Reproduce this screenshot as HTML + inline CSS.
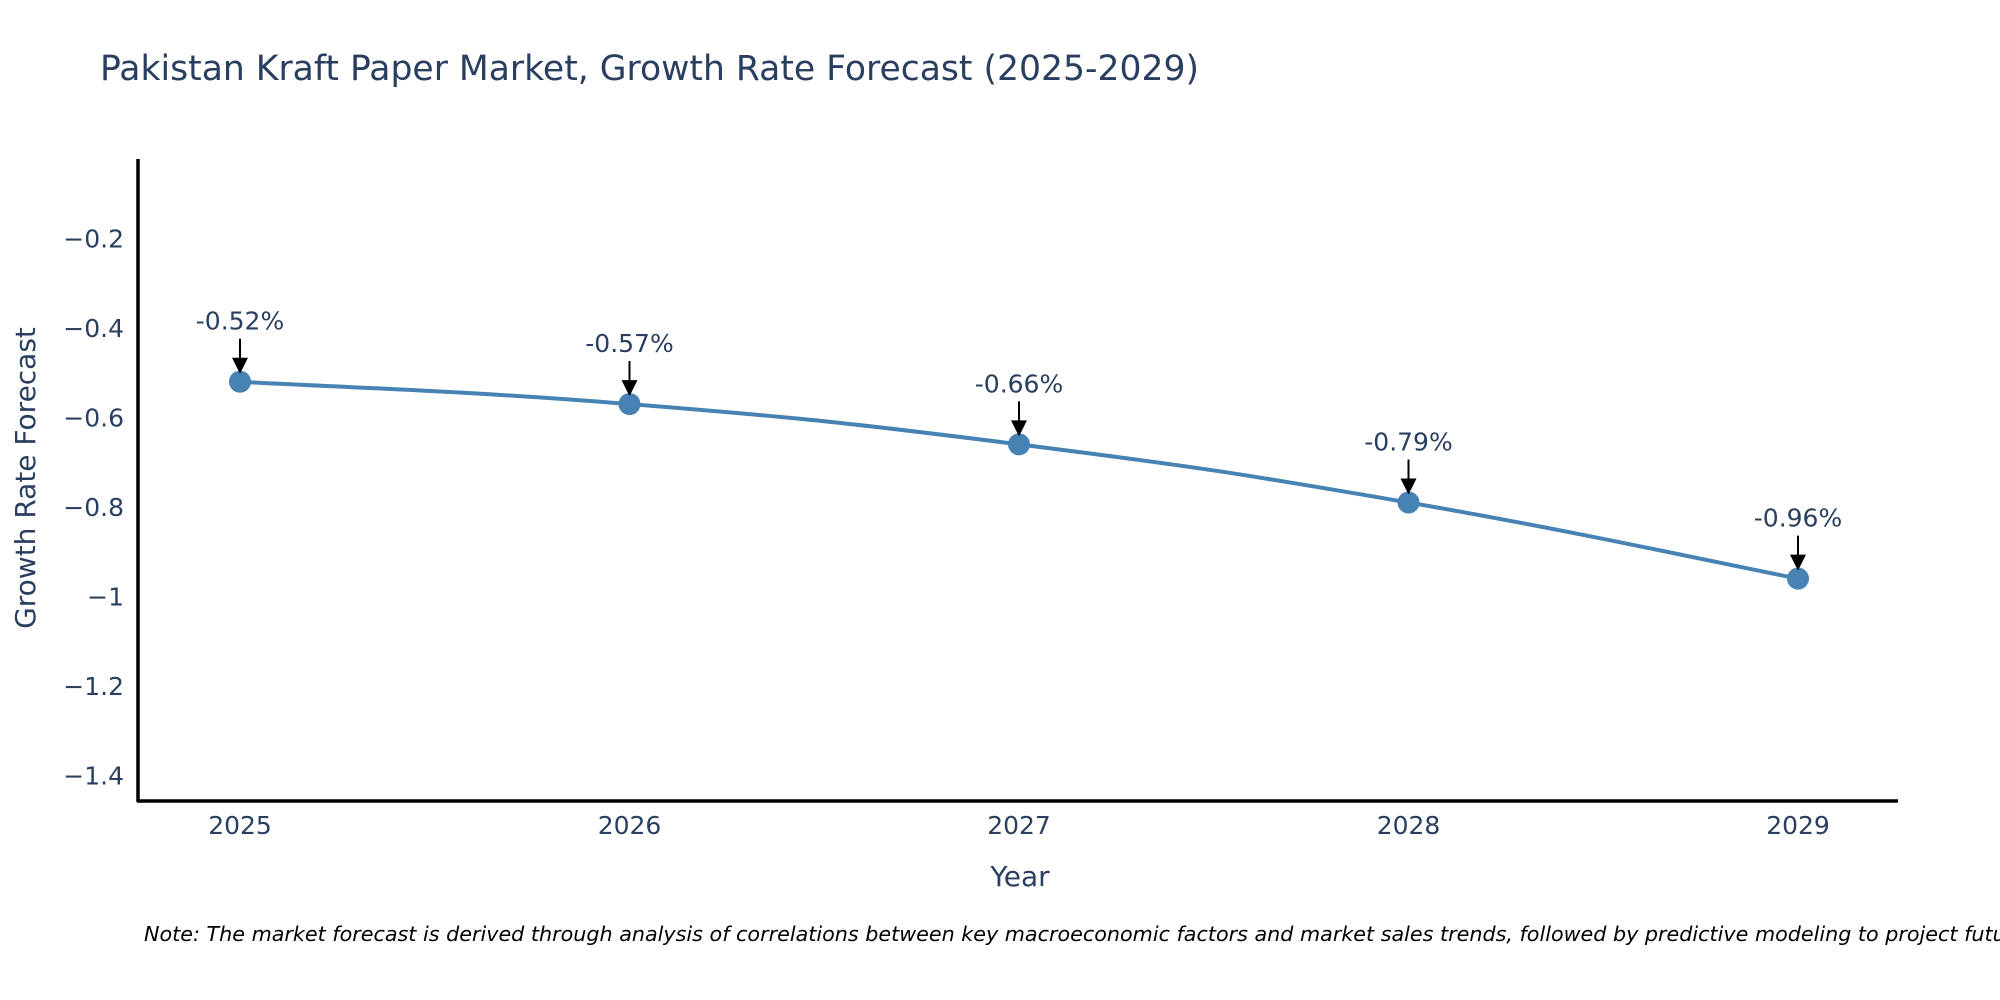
<!DOCTYPE html>
<html><head><meta charset="utf-8"><style>
body{margin:0;background:#fff}
svg{display:block;font-family:"DejaVu Sans","Liberation Sans",sans-serif}
</style></head><body>
<svg id="chart" width="2000" height="1000" viewBox="0 0 2000 1000">
<text x="100" y="80" font-size="34.6" fill="#2a3f5f">Pakistan Kraft Paper Market, Growth Rate Forecast (2025-2029)</text>
<g id="yticks"></g>
<g id="xticks"></g>
<line x1="138" y1="159" x2="138" y2="802" stroke="#000" stroke-width="3.5"/>
<line x1="137" y1="801" x2="1898" y2="801" stroke="#000" stroke-width="3.5"/>
<text transform="translate(35,478) rotate(-90)" text-anchor="middle" font-size="28" fill="#2a3f5f">Growth Rate Forecast</text>
<text x="1020" y="886" text-anchor="middle" font-size="28" fill="#2a3f5f">Year</text>
<text x="144" y="941" font-size="20.7" font-style="italic" fill="#000">Note: The market forecast is derived through analysis of correlations between key macroeconomic factors and market sales trends, followed by predictive modeling to project future sales.</text>
<g id="plot"></g>
</svg>
<script>
const years=[2025,2026,2027,2028,2029];
const growth=[-0.52,-0.57,-0.66,-0.79,-0.96];
const labels=["-0.52%","-0.57%","-0.66%","-0.79%","-0.96%"];
const yTickVals=[-0.2,-0.4,-0.6,-0.8,-1,-1.2,-1.4];
const yTickLabels=["\u22120.2","\u22120.4","\u22120.6","\u22120.8","\u22121","\u22121.2","\u22121.4"];
const NS="http://www.w3.org/2000/svg";
function xS(v){return 240+(v-2025)*389.5;}
function yS(v){return 238.5+(-0.2-v)/0.2*89.5;}
function mk(t,a,p){const e=document.createElementNS(NS,t);for(const k in a)e.setAttribute(k,a[k]);p.appendChild(e);return e;}
const yt=document.getElementById('yticks');
yTickVals.forEach((v,i)=>{const t=mk('text',{x:124,y:yS(v)+9,'text-anchor':'end','font-size':25,fill:'#2a3f5f'},yt);t.textContent=yTickLabels[i];

});
const xt=document.getElementById('xticks');
years.forEach(v=>{const t=mk('text',{x:xS(v),y:834,'text-anchor':'middle','font-size':25,fill:'#2a3f5f'},xt);t.textContent=v;

});
const plot=document.getElementById('plot');
const P=years.map((y,i)=>[xS(y),yS(growth[i])]);
let d='M'+P[0][0]+','+P[0][1];
const k=4.5;
for(let i=0;i<P.length-1;i++){const p0=P[Math.max(0,i-1)],p1=P[i],p2=P[i+1],p3=P[Math.min(P.length-1,i+2)];
const c1=[p1[0]+(p2[0]-p0[0])/k,p1[1]+(p2[1]-p0[1])/k],c2=[p2[0]-(p3[0]-p1[0])/k,p2[1]-(p3[1]-p1[1])/k];
d+=' C'+c1+' '+c2+' '+p2;}
const ln=mk('path',{d:d,fill:'none',stroke:'#4682b4','stroke-width':4},plot);


P.forEach((p,i)=>{
const c=mk('circle',{cx:p[0],cy:p[1],r:11,fill:'#4682b4'},plot);


const a=mk('line',{x1:p[0],y1:p[1]-43,x2:p[0],y2:p[1]-20,stroke:'#000','stroke-width':2},plot);


const h=mk('polygon',{points:(p[0]-8)+','+(p[1]-24)+' '+(p[0]+8)+','+(p[1]-24)+' '+p[0]+','+(p[1]-8),fill:'#000'},plot);


const t=mk('text',{x:p[0],y:p[1]-52,'text-anchor':'middle','font-size':25,fill:'#2a3f5f'},plot);t.textContent=labels[i];


});
</script>
</body></html>
